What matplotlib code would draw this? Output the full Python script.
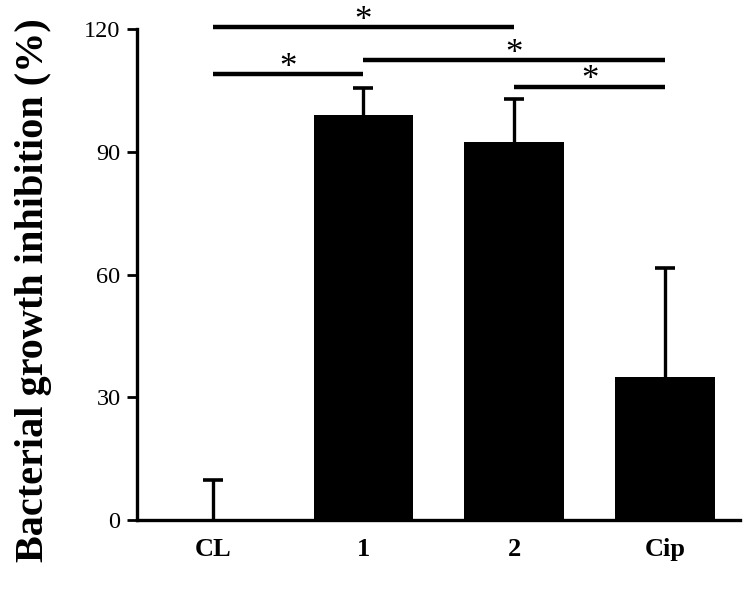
import matplotlib
matplotlib.use("Agg")
from matplotlib import pyplot as plt

# data
groups = ["CL", "1", "2", "Cip"]
inhibition = [0, 99, 92.5, 35]
error_up = [9.8, 6.6, 10.4, 26.7]

# significance brackets: (left group, right group, height)
sig_left = [0, 1, 0, 2]
sig_right = [2, 3, 1, 3]
sig_height = [120.5, 112.5, 109, 106]

plt.rcParams['font.family'] = ['Liberation Serif', 'DejaVu Serif']

fig = plt.figure(figsize=(7.5, 5.89), dpi=100)
ax = fig.add_axes([0.183, 0.117, 0.804, 0.833])

x = list(range(len(groups)))
ax.bar(x, inhibition, width=0.66, color="black")
eb = ax.errorbar(x, inhibition, yerr=[[0] * len(x), error_up], fmt="none",
                 ecolor="black", elinewidth=2.4, capsize=7, capthick=2.6)
# only the upper cap is shown
eb[1][0].set_visible(False)

for l, r, h in zip(sig_left, sig_right, sig_height):
    ax.plot([l, r], [h, h], color="black", lw=3.2, solid_capstyle="butt",
            clip_on=False)
    ax.text((l + r) / 2, h - 0.6, "*", ha="center", va="baseline",
            fontsize=25, clip_on=False)

ax.set_xlim(-0.5, 3.5)
ax.set_ylim(0, 120)
ax.set_yticks([0, 30, 60, 90, 120])
ax.set_xticks(x)
ax.set_xticklabels(groups, fontweight="bold", fontsize=19)
ax.tick_params(axis="y", labelsize=17.5, width=2, length=7, pad=5)
ax.tick_params(axis="x", length=0, pad=13)
ax.set_ylabel("Bacterial growth inhibition (%)", fontsize=29,
              fontweight="bold", va="center")
ax.yaxis.set_label_coords(-0.172, 0.469)

for side in ["top", "right"]:
    ax.spines[side].set_visible(False)
for side in ["left", "bottom"]:
    ax.spines[side].set_linewidth(2.4)

fig.savefig("out.png", dpi=100)
